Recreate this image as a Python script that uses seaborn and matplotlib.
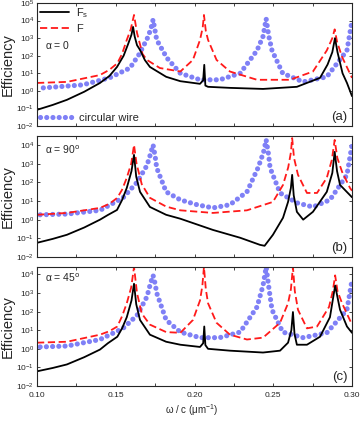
import numpy as np
import matplotlib
matplotlib.use("Agg")
import matplotlib.pyplot as plt
from matplotlib.ticker import MultipleLocator, FixedLocator, NullLocator, FormatStrFormatter
import seaborn as sns

# valores (log10 da eficiencia)
# painel (a), alpha = 0
x_fs_a = [0.100, 0.110, 0.119, 0.130, 0.140, 0.146, 0.1508, 0.155, 0.158, 0.1600, 0.161, 0.162, 0.1635,
          0.1654, 0.1685, 0.1717, 0.182, 0.191, 0.2035, 0.2055, 0.2062, 0.2069, 0.2086, 0.2225, 0.2435,
          0.265, 0.2797, 0.2845, 0.2875, 0.2892, 0.2908, 0.2940, 0.2968, 0.300]
fs_a = [-1.08, -0.8, -0.51, -0.05, 0.45, 0.85, 1.36, 2.0, 2.7, 3.2, 3.64, 3.1, 2.6, 2.33, 1.75, 1.36, 0.8,
        0.55, 0.4, 0.6, 1.48, 0.3, 0.23, 0.17, 0.11, 0.23, 0.74, 1.5, 2.2, 3.0, 2.2, 1.0, 0.45, -0.3]
x_f_a = [0.100, 0.119, 0.140, 0.146, 0.151, 0.154, 0.157, 0.1595, 0.1616, 0.1635, 0.167, 0.1698, 0.178,
         0.191, 0.199, 0.2035, 0.2052, 0.206, 0.2072, 0.2086, 0.214, 0.2225, 0.2397, 0.2606, 0.2752,
         0.284, 0.2875, 0.289, 0.2905, 0.2937, 0.300]
f_a = [0.45, 0.51, 0.9, 1.2, 1.57, 2.1, 2.9, 3.5, 4.32, 3.3, 2.1, 1.76, 1.3, 1.1, 1.76, 2.9, 3.6, 4.32,
       3.4, 2.9, 1.76, 1.1, 0.63, 0.63, 1.1, 2.3, 3.0, 3.5, 2.8, 1.93, 0.74]
x_cw_a = [0.104, 0.129, 0.146, 0.159, 0.165, 0.1705, 0.1725, 0.1737, 0.175, 0.176, 0.1825, 0.191, 0.2035,
          0.216, 0.229, 0.2397, 0.2435, 0.2455, 0.2472, 0.2492, 0.256, 0.269, 0.284, 0.2968, 0.300]
cw_a = [0.17, 0.34, 0.74, 1.3, 2.1, 3.07, 3.6, 4.05, 3.4, 2.9, 1.87, 1.0, 0.63, 0.63, 1.0, 2.3, 3.1, 4.1,
        3.1, 2.3, 1.0, 0.51, 0.8, 2.3, 4.0]

# painel (b), alpha = 90
x_fs_b = [0.100, 0.110, 0.119, 0.130, 0.140, 0.145, 0.1508, 0.154, 0.157, 0.1600, 0.1616, 0.163, 0.1654,
          0.1717, 0.182, 0.191, 0.2117, 0.229, 0.2416, 0.2445, 0.2498, 0.2562, 0.2594, 0.2612, 0.262,
          0.2630, 0.265, 0.269, 0.2752, 0.284, 0.2875, 0.289, 0.2905, 0.2924, 0.300]
fs_b = [-1.24, -1.03, -0.81, -0.42, 0.0, 0.25, 0.52, 1.05, 1.7, 2.6, 3.47, 2.3, 1.49, 0.68, 0.26, 0.05,
        -0.55, -0.97, -1.35, -1.4, -0.81, 0.1, 0.95, 1.7, 2.4, 1.3, 0.42, 0.0, 0.42, 1.49, 2.5, 3.63, 2.6,
        1.86, 1.2]
x_f_b = [0.100, 0.119, 0.140, 0.146, 0.151, 0.154, 0.157, 0.1598, 0.1616, 0.1632, 0.1665, 0.1717, 0.182,
         0.191, 0.2117, 0.2333, 0.2498, 0.2562, 0.2595, 0.2612, 0.262, 0.2632, 0.2657, 0.2714, 0.2778,
         0.284, 0.2872, 0.289, 0.2907, 0.2937, 0.2987, 0.300]
f_b = [0.26, 0.36, 0.63, 0.85, 1.17, 1.6, 2.24, 3.0, 4.0, 3.0, 1.9, 1.17, 0.7, 0.5, 0.36, 0.5, 0.95, 1.86,
       2.8, 3.6, 4.37, 3.3, 2.4, 1.43, 1.43, 2.24, 3.2, 4.27, 3.3, 2.56, 1.7, 1.55]
x_cw_b = [0.102, 0.119, 0.140, 0.1546, 0.1635, 0.1698, 0.172, 0.1737, 0.175, 0.176, 0.182, 0.191, 0.2016,
          0.2117, 0.2225, 0.2333, 0.2403, 0.2438, 0.2455, 0.247, 0.248, 0.2543, 0.265, 0.2752, 0.286,
          0.2968, 0.300]
cw_b = [0.26, 0.3, 0.5, 1.17, 2.0, 2.9, 3.5, 4.0, 3.4, 2.77, 1.49, 1.06, 0.8, 0.63, 0.8, 1.49, 2.77, 3.6,
        4.27, 3.5, 2.77, 1.43, 0.9, 0.68, 1.06, 2.4, 4.0]

# painel (c), alpha = 45
x_fs_c = [0.100, 0.110, 0.119, 0.130, 0.140, 0.145, 0.151, 0.154, 0.157, 0.1600, 0.1616, 0.163, 0.1654,
          0.1717, 0.182, 0.191, 0.2035, 0.2055, 0.2062, 0.2069, 0.2086, 0.2225, 0.2435, 0.2543, 0.2594,
          0.2615, 0.2625, 0.2635, 0.265, 0.2714, 0.2797, 0.286, 0.2893, 0.2924, 0.2968, 0.300]
fs_c = [-1.21, -1.03, -0.84, -0.45, -0.04, 0.3, 0.65, 1.1, 1.7, 2.6, 3.5, 2.4, 1.55, 0.76, 0.38, 0.22,
        0.1, 0.3, 1.2, 0.2, 0.0, -0.1, -0.2, -0.1, 0.33, 1.0, 1.98, 0.8, 0.22, 0.22, 0.65, 1.7, 3.4, 2.1,
        1.2, 0.86]
x_f_c = [0.100, 0.119, 0.140, 0.146, 0.151, 0.154, 0.157, 0.1598, 0.1616, 0.1635, 0.1665, 0.1717, 0.182,
         0.191, 0.199, 0.2035, 0.205, 0.206, 0.2072, 0.2086, 0.214, 0.2225, 0.2333, 0.2435, 0.2543, 0.2594,
         0.2612, 0.2625, 0.2637, 0.2657, 0.2714, 0.2778, 0.2854, 0.2878, 0.2893, 0.2908, 0.2937, 0.300]
f_c = [0.33, 0.38, 0.76, 0.95, 1.2, 1.75, 2.45, 3.3, 4.4, 3.0, 1.9, 1.3, 0.9, 0.86, 1.55, 2.6, 3.4, 4.4,
       3.2, 2.45, 1.4, 0.76, 0.5, 0.6, 1.4, 2.45, 3.2, 4.4, 3.1, 2.1, 1.1, 1.2, 2.25, 3.1, 3.95, 3.1,
       2.45, 1.3]
x_cw_c = [0.102, 0.119, 0.140, 0.1546, 0.1635, 0.1698, 0.172, 0.1737, 0.175, 0.176, 0.182, 0.191, 0.2035,
          0.216, 0.229, 0.2397, 0.2435, 0.2455, 0.2472, 0.2492, 0.256, 0.269, 0.284, 0.2968, 0.300]
cw_c = [0.1, 0.15, 0.5, 1.1, 1.8, 2.8, 3.5, 3.95, 3.5, 3.0, 1.55, 0.9, 0.6, 0.6, 0.9, 2.25, 3.4, 4.4,
        3.3, 2.1, 0.9, 0.6, 0.86, 2.1, 3.7]

panel_tags = ["(a)", "(b)", "(c)"]
angle_labels = [r"$\alpha$ = 0", r"$\alpha$ = 90$^{\rm o}$", r"$\alpha$ = 45$^{\rm o}$"]
y_ticks_a = [1e-2, 1e-1, 1e0, 1e1, 1e2, 1e3, 1e4, 1e5]
y_ticks_bc = [1e-2, 1e-1, 1e0, 1e1, 1e2, 1e3, 1e4]

sns.set_style("ticks")
plt.rcParams["font.family"] = ["Liberation Sans", "DejaVu Sans"]
plt.rcParams["mathtext.default"] = "regular"
plt.rcParams["axes.linewidth"] = 0.8

azul = "#7f80f6"
fig = plt.figure(figsize=(3.61, 4.22), dpi=100)
L, W = 37 / 361, 315 / 361
ax_a = fig.add_axes([L, 1 - 126 / 422, W, 123 / 422])
ax_b = fig.add_axes([L, 1 - 257 / 422, W, 121 / 422])
ax_c = fig.add_axes([L, 1 - 386 / 422, W, 119 / 422])
eixos = [ax_a, ax_b, ax_c]

dados = [(x_fs_a, fs_a, x_f_a, f_a, x_cw_a, cw_a),
         (x_fs_b, fs_b, x_f_b, f_b, x_cw_b, cw_b),
         (x_fs_c, fs_c, x_f_c, f_c, x_cw_c, cw_c)]
topos = [1e5, 10 ** 4.48, 10 ** 4.4]

for i, ax in enumerate(eixos):
    xs, ys, xf, yf, xc, yc = dados[i]
    sns.lineplot(x=xc, y=10 ** np.array(yc), ax=ax, color=azul, linewidth=3.7,
                 linestyle=(0, (0.01, 1.2)), dash_capstyle="round", sort=False,
                 estimator=None, label="circular wire")
    sns.lineplot(x=xf, y=10 ** np.array(yf), ax=ax, color="#ff1a1a", linewidth=1.3,
                 linestyle=(0, (4, 2)), sort=False, estimator=None, label="F")
    sns.lineplot(x=xs, y=10 ** np.array(ys), ax=ax, color="black", linewidth=1.3,
                 sort=False, estimator=None, label="F$_s$")
    ax.set_yscale("log")
    ax.set_xlim(0.10, 0.30)
    ax.set_ylim(1e-2, topos[i])
    ax.yaxis.set_major_locator(FixedLocator(y_ticks_a if i == 0 else y_ticks_bc))
    ax.yaxis.set_minor_locator(NullLocator())
    ax.xaxis.set_major_locator(MultipleLocator(0.05))
    ax.xaxis.set_minor_locator(MultipleLocator(0.025))
    ax.xaxis.set_major_formatter(FormatStrFormatter("%.2f"))
    ax.tick_params(which="both", direction="in", top=True, right=True, labelsize=6,
                   length=2.5, width=0.6, pad=2)
    ax.tick_params(axis="x", pad=4)
    ax.set_xlabel("")
    ax.set_ylabel("")
    if i < 2:
        ax.tick_params(axis="x", labelbottom=False)
    ax.get_legend().remove()
    ax.text(0.985, 0.025, panel_tags[i], transform=ax.transAxes, ha="right", va="bottom", fontsize=9.5)
    ax.text(0.025, [0.66, 0.89, 0.91][i], angle_labels[i], transform=ax.transAxes,
            ha="left", va="center", fontsize=7.5)
    fig.text(0.022, (ax.get_position().y0 + ax.get_position().y1) / 2, "Efficiency",
             rotation=90, ha="center", va="center", fontsize=10.5)

handles, labels = ax_a.get_legend_handles_labels()
leg1 = ax_a.legend([handles[2], handles[1]], [labels[2], labels[1]], loc="upper left",
                   frameon=False, fontsize=8, handlelength=2.6, handletextpad=0.6,
                   labelspacing=0.35, borderaxespad=0.2, borderpad=0.1)
ax_a.add_artist(leg1)
ax_a.legend([handles[0]], [labels[0]], loc="lower left", frameon=False, fontsize=8,
            handlelength=3.0, handletextpad=0.5, borderaxespad=0.2, borderpad=0.1)

fig.text(0.53, 0.028, r"$\omega$ / c ($\mu$m$^{-1}$)", ha="center", va="center", fontsize=7)

fig.savefig("out.png", dpi=100)
